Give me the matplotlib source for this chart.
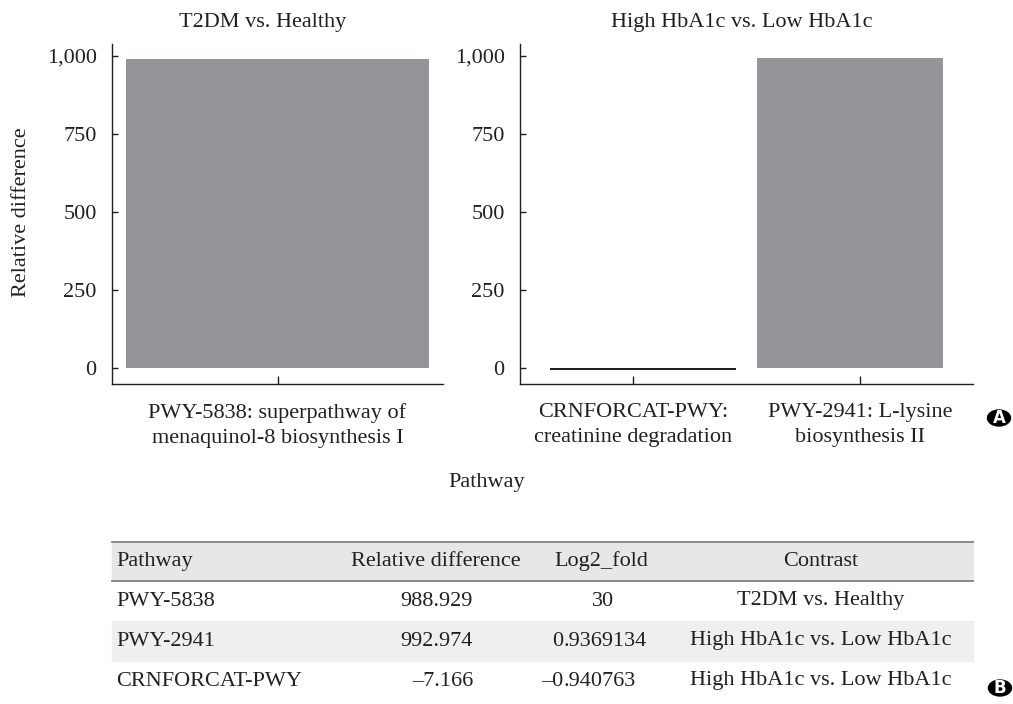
import numpy as np
import matplotlib.pyplot as plt
from matplotlib.patches import Rectangle, Circle
from matplotlib.lines import Line2D

plt.rcParams['font.family'] = ['Liberation Serif', 'DejaVu Serif']
plt.rcParams['font.size'] = 16

# Differential pathways
pathways = ["PWY-5838", "PWY-2941", "CRNFORCAT-PWY"]
rel_diff = [988.929, 992.974, -7.166]
log2_fold = ["30", "0.9369134", "-0.940763"]
contrasts = ["T2DM vs. Healthy", "High HbA1c vs. Low HbA1c", "High HbA1c vs. Low HbA1c"]
pathway_names = {
    "PWY-5838": "PWY-5838: superpathway of\nmenaquinol-8 biosynthesis I",
    "PWY-2941": "PWY-2941: L-lysine\nbiosynthesis II",
    "CRNFORCAT-PWY": "CRNFORCAT-PWY:\ncreatinine degradation",
}
panel_order = ["T2DM vs. Healthy", "High HbA1c vs. Low HbA1c"]
bar_order = {"T2DM vs. Healthy": ["PWY-5838"],
             "High HbA1c vs. Low HbA1c": ["CRNFORCAT-PWY", "PWY-2941"]}
yticks = [0, 250, 500, 750, 1000]

W, H = 1013, 704
ink = '#231f20'
bar_grey = '#939598'

fig = plt.figure(figsize=(W / 100, H / 100), dpi=100)


def fx(x):
    return x / W


def fy(y):
    return 1 - y / H


def dash(s):
    return s.replace('-', '\u2013')


# panel boxes in pixels: left, right, top, bottom
boxes = [(112, 443, 44, 384), (520, 973, 44, 384)]
widths = [0.915, 0.82]
title_x = [263, 742]

for contrast, (l, r, t, b), bw, tx in zip(panel_order, boxes, widths, title_x):
    ax = fig.add_axes([fx(l), fy(b), fx(r) - fx(l), fy(t) - fy(b)])
    names = bar_order[contrast]
    vals = [rel_diff[pathways.index(n)] for n in names]
    xs = np.arange(len(names))
    bar_x = xs.mean() + (xs - xs.mean()) * 0.915
    cols = [ink if v < 0 else bar_grey for v in vals]
    ax.bar(bar_x, vals, width=bw, color=cols, linewidth=0)
    ax.set_xlim(-0.5, len(names) - 0.5)
    ax.set_ylim(-51, 1038)
    ax.set_yticks(yticks)
    ax.set_yticklabels([f"{v:,}" for v in yticks])
    ax.set_xticks(xs)
    ax.set_xticklabels([pathway_names[n] for n in names], linespacing=1.4)
    for s in ['top', 'right']:
        ax.spines[s].set_visible(False)
    for s in ['left', 'bottom']:
        ax.spines[s].set_color(ink)
        ax.spines[s].set_linewidth(1.0)
    ax.tick_params(axis='y', direction='in', length=4.5, width=1.0, color=ink,
                   labelcolor=ink, pad=11)
    ax.tick_params(axis='x', direction='in', length=6, width=1.0, color=ink,
                   labelcolor=ink, pad=14)
    fig.text(fx(tx), fy(27), contrast, ha='center', va='baseline', color=ink)

fig.text(fx(22), fy(212), "Relative difference", rotation=90,
         ha='center', va='center', color=ink)
fig.text(fx(487), fy(482), "Pathway", ha='center', va='center', color=ink)

# summary table
tl, tr = 112, 973
header_top, header_bot, row_h = 542, 581, 40
fig.patches.append(Rectangle((fx(tl), fy(header_bot)), fx(tr) - fx(tl),
                             fy(header_top) - fy(header_bot),
                             transform=fig.transFigure, color='#e6e7e8', zorder=0))
fig.patches.append(Rectangle((fx(tl), fy(header_bot + 2 * row_h)), fx(tr) - fx(tl),
                             row_h / H, transform=fig.transFigure,
                             color='#efeff0', zorder=0))
for yy in [header_top, header_bot]:
    fig.lines.append(Line2D([fx(tl), fx(tr)], [fy(yy), fy(yy)],
                            transform=fig.transFigure, color='#808285', lw=1.3))

hy = (header_top + header_bot) / 2
fig.text(fx(116), fy(hy), "Pathway", ha='left', va='center', color=ink)
fig.text(fx(436), fy(hy), "Relative difference", ha='center', va='center', color=ink)
fig.text(fx(601), fy(hy), "Log2_fold", ha='center', va='center', color=ink)
fig.text(fx(821), fy(hy), "Contrast", ha='center', va='center', color=ink)

dec_x = 563
for i, p in enumerate(pathways):
    ry = header_bot + row_h * i + row_h / 2
    fig.text(fx(116), fy(ry), p, ha='left', va='center', color=ink)
    fig.text(fx(473), fy(ry), dash(f"{rel_diff[i]:.3f}"), ha='right',
             va='center', color=ink)
    lf = dash(log2_fold[i])
    if '.' in lf:
        whole, frac = lf.split('.')
        fig.text(fx(dec_x), fy(ry), whole, ha='right', va='center', color=ink)
        fig.text(fx(dec_x), fy(ry), '.' + frac, ha='left', va='center', color=ink)
    else:
        fig.text(fx(603), fy(ry), lf, ha='center', va='center', color=ink)
    fig.text(fx(821), fy(ry), contrasts[i], ha='center', va='center', color=ink)

# panel markers
for lab, (cx, cy) in zip(["A", "B"], [(999, 418), (1000, 688)]):
    fig.patches.append(Circle((fx(cx), fy(cy)), 11.5 / W, transform=fig.transFigure,
                              color='black'))
    fig.text(fx(cx), fy(cy), lab, ha='center', va='center', color='white',
             fontsize=12, fontweight='bold', family='DejaVu Sans')

fig.savefig('out.png', dpi=100)
